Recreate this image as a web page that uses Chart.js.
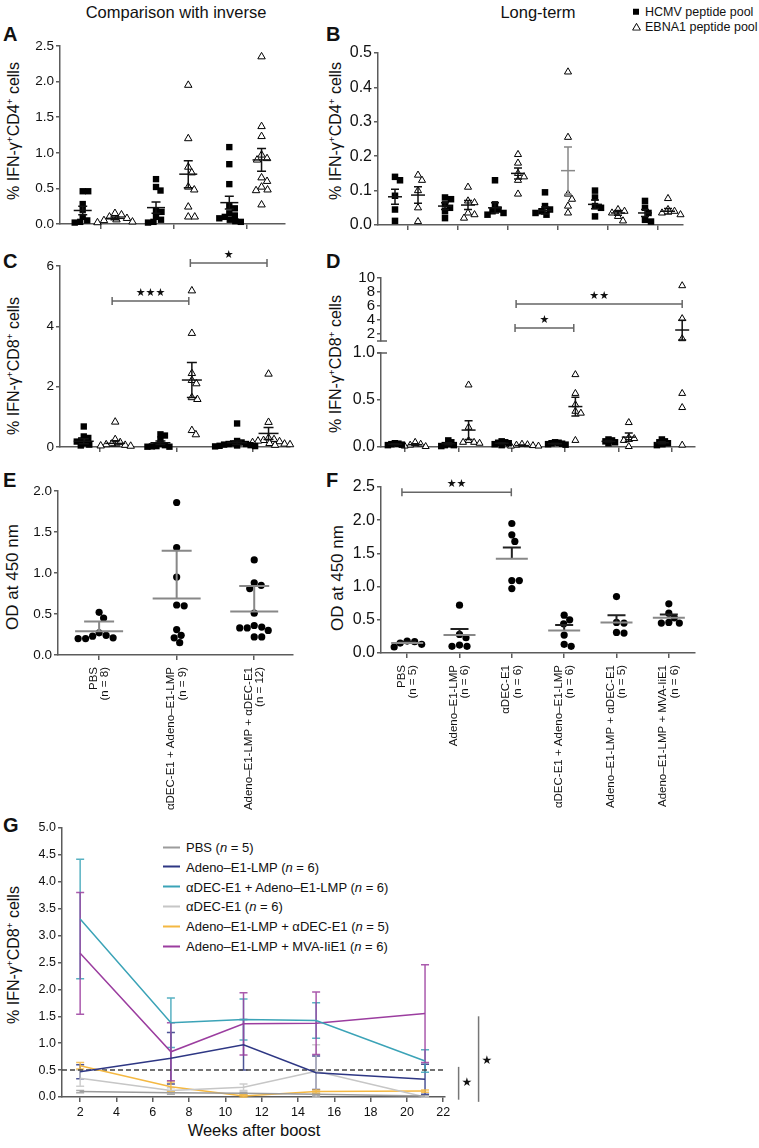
<!DOCTYPE html>
<html><head><meta charset="utf-8">
<script src="https://cdn.jsdelivr.net/npm/chart.js@4.4.0/dist/chart.umd.min.js"></script>
<style>
html,body{margin:0;padding:0;background:#fff}
body{width:759px;height:1148px;position:relative;overflow:hidden;font-family:"Liberation Sans",Arial,Helvetica,sans-serif;color:#111}
canvas{position:absolute}
.c{position:absolute;white-space:nowrap;transform:translate(-50%,-50%);line-height:1}
.r{position:absolute;white-space:nowrap;transform:translate(-50%,-50%) rotate(-90deg);line-height:1}
.L{position:absolute;font-weight:bold;font-size:20px;line-height:1;transform:translateY(-50%)}
sup{font-size:62%;vertical-align:0;position:relative;top:-0.6em;line-height:0}
.lg{position:absolute;white-space:nowrap;transform:translateY(-50%);display:flex;align-items:center;line-height:1}
.lg i.s{display:inline-block;width:17px;height:2px;margin-right:6px}
</style></head><body>

<div class="c" style="left:176px;top:12px;font-size:16.5px">Comparison with inverse</div>
<div class="c" style="left:538px;top:12px;font-size:16.5px">Long-term</div>
<div class="lg" style="left:632px;top:12px;font-size:12.5px"><svg width="8" height="8"><rect x="1" y="1" width="6" height="6" fill="#000"/></svg><span style="margin-left:5px">HCMV peptide pool</span></div>
<div class="lg" style="left:632px;top:27px;font-size:12.5px"><svg width="9" height="8"><polygon points="4.5,0.6 8.4,7.4 0.6,7.4" fill="#fff" stroke="#000" stroke-width="1"/></svg><span style="margin-left:4px">EBNA1 peptide pool</span></div>

<div class="L" style="left:3px;top:34px">A</div>
<div class="L" style="left:326px;top:34px">B</div>
<div class="L" style="left:3px;top:261px">C</div>
<div class="L" style="left:326px;top:261px">D</div>
<div class="L" style="left:3px;top:480px">E</div>
<div class="L" style="left:326px;top:480px">F</div>
<div class="L" style="left:3px;top:825px">G</div>

<div class="r" style="left:14px;top:131px;font-size:16px">% IFN-γ<sup>+</sup>CD4<sup>+</sup> cells</div>
<div class="r" style="left:336px;top:131px;font-size:16px">% IFN-γ<sup>+</sup>CD4<sup>+</sup> cells</div>
<div class="r" style="left:14px;top:366px;font-size:16px">% IFN-γ<sup>+</sup>CD8<sup>+</sup> cells</div>
<div class="r" style="left:336px;top:364px;font-size:16px">% IFN-γ<sup>+</sup>CD8<sup>+</sup> cells</div>
<div class="r" style="left:12px;top:577px;font-size:17px">OD at 450 nm</div>
<div class="r" style="left:337px;top:578px;font-size:17px">OD at 450 nm</div>
<div class="r" style="left:14px;top:955px;font-size:16px">% IFN-γ<sup>+</sup>CD8<sup>+</sup> cells</div>
<div class="c" style="left:254px;top:1130px;font-size:16.5px">Weeks after boost</div>
<div id="glegend"></div>

<script>
// ---------------- DATA ----------------
// Panel A: comparison with inverse, CD4 (3 groups)
const A_hcmv = [
  [0.46, 0.46, 0.28, 0.2, 0.1, 0.05, 0.03, 0.02],
  [0.63, 0.52, 0.47, 0.18, 0.17, 0.1, 0.06, 0.03, 0.02],
  [1.08, 0.84, 0.56, 0.25, 0.22, 0.15, 0.12, 0.1, 0.08, 0.06, 0.04, 0.03]
];
const A_ebna = [
  [0.15, 0.13, 0.1, 0.08, 0.06, 0.05, 0.03, 0.02],
  [1.95, 1.2, 0.8, 0.72, 0.52, 0.48, 0.24, 0.1, 0.1],
  [2.35, 1.37, 1.23, 0.97, 0.92, 0.9, 0.65, 0.6, 0.52, 0.48, 0.47, 0.27]
];
const A_hcmvMean = [0.19, 0.23, 0.3], A_hcmvSem = [0.06, 0.08, 0.09];
const A_ebnaMean = [0.08, 0.7, 0.9], A_ebnaSem = [0.02, 0.19, 0.16];
const A_yTicks = [0, 0.5, 1.0, 1.5, 2.0, 2.5];

// Panel B: long-term, CD4 (6 groups)
const B_hcmv = [
  [0.14, 0.13, 0.085, 0.045, 0.012],
  [0.08, 0.075, 0.06, 0.05, 0.04, 0.02],
  [0.13, 0.06, 0.045, 0.04, 0.035, 0.03],
  [0.095, 0.055, 0.045, 0.04, 0.035, 0.03],
  [0.1, 0.08, 0.055, 0.05, 0.025],
  [0.07, 0.05, 0.035, 0.015, 0.01]
];
const B_ebna = [
  [0.145, 0.13, 0.1, 0.05, 0.01],
  [0.11, 0.07, 0.065, 0.035, 0.03, 0.02],
  [0.205, 0.18, 0.15, 0.14, 0.13, 0.09],
  [0.445, 0.255, 0.09, 0.075, 0.055, 0.035],
  [0.045, 0.04, 0.035, 0.025, 0.012],
  [0.077, 0.045, 0.04, 0.035, 0.03]
];
const B_hcmvMean = [0.082, 0.055, 0.05, 0.042, 0.06, 0.035], B_hcmvSem = [0.022, 0.01, 0.015, 0.01, 0.013, 0.01];
const B_ebnaMean = [0.087, 0.058, 0.15, 0.158, 0.035, 0.04], B_ebnaSem = [0.024, 0.013, 0.016, 0.069, 0.007, 0.008];
const B_yTicks = [0, 0.1, 0.2, 0.3, 0.4, 0.5];

// Panel C: comparison with inverse, CD8
const C_hcmv = [
  [0.68, 0.35, 0.3, 0.22, 0.18, 0.12, 0.08, 0.05],
  [0.42, 0.38, 0.25, 0.1, 0.06, 0.03, 0.02, 0.01, 0.01],
  [0.78, 0.2, 0.15, 0.12, 0.1, 0.1, 0.08, 0.06, 0.05, 0.04, 0.03, 0.02]
];
const C_ebna = [
  [0.83, 0.25, 0.15, 0.1, 0.08, 0.06, 0.04, 0.03],
  [5.18, 3.77, 2.44, 2.21, 2.1, 1.64, 1.58, 0.55, 0.41],
  [2.42, 0.82, 0.3, 0.25, 0.22, 0.2, 0.18, 0.15, 0.12, 0.1, 0.08, 0.06]
];
const C_hcmvMean = [0.19, 0.14, 0.14], C_hcmvSem = [0.08, 0.06, 0.06];
const C_ebnaMean = [0.12, 2.22, 0.45], C_ebnaSem = [0.09, 0.58, 0.2];
const C_yTicks = [0, 2, 4, 6];
const C_sig = [{x1: 0.16, x2: 1.16, y: 4.84, t: '★★★'}, {x1: 1.18, x2: 2.18, y: 6.1, t: '★'}];

// Panel D: long-term, CD8 (broken axis)
const D_hcmv = [
  [0.04, 0.035, 0.03, 0.025, 0.02],
  [0.07, 0.05, 0.03, 0.02, 0.02, 0.01],
  [0.06, 0.05, 0.045, 0.04, 0.03, 0.02],
  [0.05, 0.045, 0.04, 0.035, 0.03, 0.025],
  [0.08, 0.07, 0.06, 0.05, 0.04],
  [0.08, 0.06, 0.05, 0.04, 0.03, 0.02]
];
const D_ebna = [
  [0.05, 0.03, 0.02, 0.01, 0.005],
  [0.66, 0.21, 0.07, 0.05, 0.05, 0.04],
  [0.03, 0.025, 0.02, 0.015, 0.01, 0.01],
  [0.77, 0.57, 0.45, 0.38, 0.36, 0.07],
  [0.26, 0.1, 0.09, 0.07, 0.005],
  [8.9, 4.2, 1.33, 0.57, 0.42, 0.02]
];
const D_hcmvMean = [0.03, 0.035, 0.04, 0.035, 0.06, 0.045], D_hcmvSem = [0.005, 0.01, 0.006, 0.004, 0.008, 0.01];
const D_ebnaMean = [0.025, 0.18, 0.015, 0.43, 0.105, 2.57], D_ebnaSem = [0.01, 0.1, 0.005, 0.1, 0.045, 1.41];
const D_yTicksUpper = [2, 4, 6, 8, 10];
const D_yTicksLower = [0, 0.5, 1.0];
const D_sig = [{x1: 2.06, x2: 3.16, y: 2.86, t: '★'}, {x1: 2.08, x2: 5.19, y: 6.29, t: '★★'}];

// Panel E: OD at 450 nm, comparison with inverse
const E_cats = ['PBS', 'αDEC-E1 + Adeno–E1-LMP', 'Adeno–E1-LMP + αDEC-E1'];
const E_n = [8, 9, 12];
const E_od = [
  [0.52, 0.45, 0.27, 0.24, 0.23, 0.21, 0.2, 0.2],
  [1.86, 1.31, 0.95, 0.61, 0.6, 0.31, 0.24, 0.21, 0.15],
  [1.16, 0.88, 0.85, 0.81, 0.51, 0.36, 0.34, 0.33, 0.33, 0.3, 0.22, 0.22]
];
const E_mean = [0.29, 0.69, 0.53], E_sem = [0.12, 0.58, 0.31];
const E_yTicks = [0, 0.5, 1.0, 1.5, 2.0];

// Panel F: OD at 450 nm, long-term
const F_cats = ['PBS', 'Adeno–E1-LMP', 'αDEC-E1', 'αDEC-E1 + Adeno–E1-LMP', 'Adeno–E1-LMP + αDEC-E1', 'Adeno–E1-LMP + MVA-IiE1'];
const F_n = [5, 6, 6, 6, 5, 6];
const F_od = [
  [0.18, 0.17, 0.15, 0.13, 0.09],
  [0.72, 0.28, 0.23, 0.12, 0.1, 0.1],
  [1.95, 1.78, 1.68, 1.09, 1.09, 0.97],
  [0.57, 0.5, 0.44, 0.27, 0.13, 0.1],
  [0.85, 0.46, 0.45, 0.31, 0.3],
  [0.74, 0.6, 0.53, 0.46, 0.45, 0.45]
];
const F_mean = [0.15, 0.27, 1.42, 0.34, 0.46, 0.53], F_sem = [0.02, 0.09, 0.17, 0.08, 0.11, 0.05];
const F_yTicks = [0, 0.5, 1.0, 1.5, 2.0, 2.5];
const F_sig = [{x1: -0.1, x2: 1.99, y: 2.42, t: '★★'}];

// Panel G: time course
const G_weeks = [2, 7, 11, 15, 21];
const G_names = ['PBS', 'Adeno–E1-LMP', 'αDEC-E1 + Adeno–E1-LMP', 'αDEC-E1', 'Adeno–E1-LMP + αDEC-E1', 'Adeno–E1-LMP + MVA-IiE1'];
const G_n = [5, 6, 6, 6, 5, 6];
const G_colors = ['#9c9c9c', '#2e3784', '#3ba3b7', '#c6c6c6', '#f4b842', '#9b3d9f'];
const G_pbs    = [0.1, 0.08, 0.07, 0.05, 0.02];
const G_adeno  = [0.47, 0.72, 0.97, 0.45, 0.33];
const G_decAd  = [3.31, 1.38, 1.44, 1.42, 0.67];
const G_dec    = [0.35, 0.12, 0.18, 0.48, 0.0];
const G_adDec  = [0.58, 0.19, 0.02, 0.1, 0.11];
const G_adMva  = [2.67, 0.84, 1.36, 1.37, 1.55];
const G_pbsErr   = [0.02, 0.03, 0.02, 0.02, 0.01];
const G_adenoErr = [0.13, 0.48, 0.47, 0.31, 0.28];
const G_decAdErr = [1.11, 0.46, 0.38, 0.33, 0.21];
const G_decErr   = [0.15, 0.05, 0.06, 0.49, 0.01];
const G_adDecErr = [0.06, 0.09, 0.02, 0.03, 0.02];
const G_adMvaErr = [1.13, 0.54, 0.58, 0.58, 0.91];
const G_threshold = 0.5;
const G_xTicks = [2, 4, 6, 8, 10, 12, 14, 16, 18, 20, 22];
const G_yTicks = [0, 0.5, 1.0, 1.5, 2.0, 2.5, 3.0, 3.5, 4.0, 4.5, 5.0];
const G_sig = [{x: 22.85, y1: 0.56, y2: -0.05, ty: 0.26}, {x: 23.95, y1: 1.5, y2: -0.09, ty: 0.67}];

// ---------------- DRAWING ----------------
Chart.defaults.font.family = '"Liberation Sans", Arial, sans-serif';
Chart.defaults.color = '#111';
const AX = '#5c5c5c';
const STAR_FONT = '11px "DejaVu Sans"';

function mk(box) {
  const c = document.createElement('canvas');
  c.width = box[2]; c.height = box[3];
  c.style.left = box[0] + 'px'; c.style.top = box[1] + 'px';
  document.body.appendChild(c);
  return c;
}
const range = n => Array.from({length: n}, (_, i) => i);

function drawBrackets(ctx, xs, ys, list) {
  (list || []).forEach(b => {
    const x1 = xs.getPixelForValue(b.x1), x2 = xs.getPixelForValue(b.x2), y = ys.getPixelForValue(b.y);
    ctx.save();
    ctx.strokeStyle = '#666'; ctx.lineWidth = 1.5;
    ctx.beginPath();
    ctx.moveTo(x1, y); ctx.lineTo(x2, y);
    ctx.moveTo(x1, y - 4); ctx.lineTo(x1, y + 4);
    ctx.moveTo(x2, y - 4); ctx.lineTo(x2, y + 4);
    ctx.stroke();
    ctx.fillStyle = '#111'; ctx.font = STAR_FONT; ctx.textAlign = 'center'; ctx.textBaseline = 'middle';
    ctx.fillText(b.t, (x1 + x2) / 2, y - 8);
    ctx.restore();
  });
}

const summPlugin = {
  id: 'summ',
  afterDatasetsDraw(chart) {
    const o = chart.options.plugins.summ; if (!o) return;
    const ctx = chart.ctx, xs = chart.scales.x, ys = chart.scales.y;
    const yMin = ys.min, yMax = ys.max;
    (o.items || []).forEach(it => {
      if (it.m < yMin || it.m > yMax) return;
      const cx = xs.getPixelForValue(it.x), my = ys.getPixelForValue(it.m);
      const hiV = it.m + it.s, loV = it.up ? it.m : it.m - it.s;
      const hy = ys.getPixelForValue(Math.min(hiV, yMax)), ly = ys.getPixelForValue(Math.max(loV, yMin));
      ctx.save();
      ctx.lineWidth = it.lw;
      ctx.strokeStyle = it.ec;
      ctx.beginPath();
      ctx.moveTo(cx, hy); ctx.lineTo(cx, ly);
      if (hiV <= yMax) { ctx.moveTo(cx - it.cw, hy); ctx.lineTo(cx + it.cw, hy); }
      if (!it.up && loV >= yMin) { ctx.moveTo(cx - it.cw, ly); ctx.lineTo(cx + it.cw, ly); }
      ctx.stroke();
      ctx.strokeStyle = it.mc;
      ctx.beginPath(); ctx.moveTo(cx - it.hw, my); ctx.lineTo(cx + it.hw, my); ctx.stroke();
      ctx.restore();
    });
    const ca = chart.chartArea;
    ctx.save(); ctx.strokeStyle = AX; ctx.lineWidth = 1.5; ctx.beginPath();
    if (o.breakBottom) { ctx.moveTo(ca.left - 4, ca.bottom); ctx.lineTo(ca.left + 6, ca.bottom); }
    if (o.breakTop) { ctx.moveTo(ca.left - 4, ca.top); ctx.lineTo(ca.left + 6, ca.top); }
    ctx.stroke(); ctx.restore();
    drawBrackets(ctx, xs, ys, o.brackets);
  }
};

function swarm(chart) {
  const xs = chart.scales.x, ys = chart.scales.y;
  chart.data.datasets.forEach(ds => {
    const d = ds.swarm; if (!d) return;
    const byBase = new Map();
    ds.data.forEach(p => { if (!byBase.has(p.b)) byBase.set(p.b, []); byBase.get(p.b).push(p); });
    byBase.forEach(arr => {
      const placed = [];
      arr.slice().sort((a, b) => b.y - a.y).forEach(p => {
        const bx = xs.getPixelForValue(p.b), py = ys.getPixelForValue(p.y);
        let best = 0;
        for (let k = 0; k < 400; k++) {
          const cands = k === 0 ? [0] : [k * 0.5, -k * 0.5];
          let ok = null;
          for (const c of cands) {
            if (placed.every(q => { const dx = bx + c - q[0], dy = py - q[1]; return dx * dx + dy * dy >= d * d; })) { ok = c; break; }
          }
          if (ok !== null) { best = ok; break; }
        }
        placed.push([bx + best, py]);
        p.x = xs.getValueForPixel(bx + best);
      });
    });
  });
  chart.update('none');
}

function dotPanel(o) {
  const datasets = [], items = [];
  o.series.forEach(s => {
    const pts = [];
    s.vals.forEach((arr, g) => arr.forEach(v => { if (!o.keep || o.keep(v)) pts.push({x: g + s.off, y: v, b: g + s.off}); }));
    datasets.push({data: pts, pointStyle: s.style, pointRadius: s.r, pointHoverRadius: s.r,
      pointBackgroundColor: s.fill, pointBorderColor: s.stroke, pointBorderWidth: s.bw,
      showLine: false, clip: false, swarm: s.d});
    if (s.mean) s.mean.forEach((m, g) => items.push({x: g + s.off, m, s: s.sem[g],
      hw: o.st.hw, cw: o.st.cw, lw: o.st.lw,
      mc: (s.mc && s.mc[g]) || o.st.mc, ec: (s.ec && s.ec[g]) || o.st.ec, up: o.st.up}));
  });
  const hasLabels = !!o.labels;
  const chart = new Chart(mk(o.box), {
    type: 'scatter',
    data: {datasets},
    options: {
      responsive: false, animation: false, events: [],
      layout: {padding: {top: o.pad[0], right: o.pad[1], bottom: o.pad[2] || 0, left: 0}},
      plugins: {legend: {display: false}, tooltip: {enabled: false},
        summ: {items, brackets: o.brackets, breakBottom: o.breakBottom, breakTop: o.breakTop}},
      scales: {
        x: {type: 'linear', display: o.showX !== false, min: o.xMin, max: o.xMax,
          afterBuildTicks: s => { s.ticks = range(o.n).map(v => ({value: v})); },
          ticks: {display: hasLabels, autoSkip: false, minRotation: 90, maxRotation: 90,
            labelOffset: -5.75, padding: 7, color: '#111', font: {size: 11.5, lineHeight: 1.0},
            callback: v => hasLabels ? o.labels[Math.round(v)] : ''},
          grid: {display: true, drawOnChartArea: false, drawTicks: true, tickLength: 5, color: AX, lineWidth: 1.5},
          border: {display: true, color: AX, width: 1.5},
          afterFit: s => { s.height = o.xH || 0; }},
        y: {type: 'linear', min: o.yMin, max: o.yMax,
          afterBuildTicks: s => { s.ticks = o.yTicks.map(v => ({value: v})); },
          ticks: {callback: o.yFmt, color: '#111', font: {size: o.yFont}, padding: 2, autoSkip: false},
          grid: {display: true, drawOnChartArea: false, drawTicks: true, tickLength: 4, color: AX, lineWidth: 1.5},
          border: {display: true, color: AX, width: 1.5},
          afterFit: s => { s.width = o.yW; }}
      }
    },
    plugins: [summPlugin]
  });
  swarm(chart);
  return chart;
}

const f1 = v => Number(v).toFixed(1);
const f0 = v => String(v);
const SQ = (vals, off, mean, sem, r, d, extra) => Object.assign({vals, off, mean, sem, style: 'rect', r, fill: '#000', stroke: '#000', bw: 0, d}, extra || {});
const TR = (vals, off, mean, sem, r, d, extra) => Object.assign({vals, off, mean, sem, style: 'triangle', r, fill: '#fff', stroke: '#000', bw: 1, d}, extra || {});
const CI = (vals, mean, sem, r, d) => ({vals, off: 0, mean, sem, style: 'circle', r, fill: '#000', stroke: '#000', bw: 0, d});

// A
dotPanel({box: [0, 30, 300, 210], pad: [16, 15], yW: 60, xH: 16, n: 3, xMin: -0.55, xMax: 2.52,
  yMin: 0, yMax: 2.5, yTicks: A_yTicks, yFmt: f1, yFont: 13.5,
  st: {hw: 9, cw: 4.5, lw: 1.5, mc: '#111', ec: '#111'},
  series: [SQ(A_hcmv, -0.24, A_hcmvMean, A_hcmvSem, 4.5, 5.5), TR(A_ebna, 0.2, A_ebnaMean, A_ebnaSem, 4.3, 6.5)]});
// B
dotPanel({box: [320, 30, 380, 210], pad: [23, 17], yW: 58, xH: 15, n: 6, xMin: -0.6, xMax: 5.5,
  yMin: 0, yMax: 0.5, yTicks: B_yTicks, yFmt: f1, yFont: 16,
  st: {hw: 7, cw: 4, lw: 1.5, mc: '#111', ec: '#111'},
  series: [SQ(B_hcmv, -0.26, B_hcmvMean, B_hcmvSem, 4.6, 6),
           TR(B_ebna, 0.2, B_ebnaMean, B_ebnaSem, 4.1, 6.5, {mc: [0, 0, 0, '#888'], ec: [0, 0, 0, '#888']})]});
// C
dotPanel({box: [0, 250, 300, 210], pad: [16, 10], yW: 60, xH: 13, n: 3, xMin: -0.52, xMax: 2.48,
  yMin: 0, yMax: 6, yTicks: C_yTicks, yFmt: f0, yFont: 13.5,
  st: {hw: 10, cw: 5, lw: 1.5, mc: '#111', ec: '#111'}, brackets: C_sig,
  series: [SQ(C_hcmv, -0.21, C_hcmvMean, C_hcmvSem, 4.5, 4.5), TR(C_ebna, 0.2, C_ebnaMean, C_ebnaSem, 4.3, 5.5)]});
// D upper segment
dotPanel({box: [320, 262, 380, 91], pad: [16, 5, 12], yW: 61, showX: false, n: 6, xMin: -0.45, xMax: 5.43,
  yMin: 1, yMax: 10, yTicks: D_yTicksUpper, yFmt: f0, yFont: 15, keep: v => v > 1, breakBottom: true,
  st: {hw: 7, cw: 4, lw: 1.5, mc: '#111', ec: '#111'}, brackets: D_sig,
  series: [SQ(D_hcmv, -0.19, D_hcmvMean, D_hcmvSem, 4.6, 3.5), TR(D_ebna, 0.19, D_ebnaMean, D_ebnaSem, 4, 5.5)]});
// D lower segment
dotPanel({box: [320, 340, 380, 120], pad: [13, 5], yW: 61, xH: 13, n: 6, xMin: -0.45, xMax: 5.43,
  yMin: 0, yMax: 1, yTicks: D_yTicksLower, yFmt: f1, yFont: 16, keep: v => v <= 1, breakTop: true,
  st: {hw: 7, cw: 4, lw: 1.5, mc: '#111', ec: '#111'},
  series: [SQ(D_hcmv, -0.19, D_hcmvMean, D_hcmvSem, 4.6, 3.5), TR(D_ebna, 0.19, D_ebnaMean, D_ebnaSem, 4, 5.5)]});
// E
dotPanel({box: [0, 478, 305, 345], pad: [13, 12], yW: 58, xH: 168, n: 3, xMin: -0.53, xMax: 2.5,
  yMin: 0, yMax: 2, yTicks: E_yTicks, yFmt: f1, yFont: 13.5,
  labels: E_cats.map((c, i) => [c, '(n = ' + E_n[i] + ')']),
  st: {hw: 24, cw: 15, lw: 2, mc: '#888', ec: '#888', up: true},
  series: [CI(E_od, E_mean, E_sem, 3.6, 7.2)]});
// F
dotPanel({box: [320, 474, 380, 349], pad: [13, 5], yW: 61, xH: 170, n: 6, xMin: -0.5, xMax: 5.5,
  yMin: 0, yMax: 2.5, yTicks: F_yTicks, yFmt: f1, yFont: 16,
  labels: F_cats.map((c, i) => [c, '(n = ' + F_n[i] + ')']), brackets: F_sig,
  st: {hw: 16, cw: 9, lw: 2, mc: '#888', ec: '#222', up: true},
  series: [CI(F_od, F_mean, F_sem, 3.6, 7.2)]});

// G
const G_means = [G_pbs, G_adeno, G_decAd, G_dec, G_adDec, G_adMva];
const G_errs = [G_pbsErr, G_adenoErr, G_decAdErr, G_decErr, G_adDecErr, G_adMvaErr];
const gPlugin = {
  id: 'gerr',
  beforeDatasetsDraw(chart) {
    const ctx = chart.ctx, x = chart.scales.x, y = chart.scales.y;
    G_means.forEach((ser, i) => {
      ctx.save(); ctx.strokeStyle = G_colors[i]; ctx.globalAlpha = 0.85; ctx.lineWidth = 1.5;
      G_weeks.forEach((w, j) => {
        const px = x.getPixelForValue(w), m = ser[j], e = G_errs[i][j];
        const hy = y.getPixelForValue(m + e), ly = y.getPixelForValue(Math.max(m - e, 0));
        ctx.beginPath();
        ctx.moveTo(px, hy); ctx.lineTo(px, ly);
        ctx.moveTo(px - 4, hy); ctx.lineTo(px + 4, hy);
        ctx.moveTo(px - 4, ly); ctx.lineTo(px + 4, ly);
        ctx.stroke();
      });
      ctx.restore();
    });
  },
  afterDraw(chart) {
    const ctx = chart.ctx, x = chart.scales.x, y = chart.scales.y;
    G_sig.forEach(s => {
      const px = x.getPixelForValue(s.x);
      ctx.save(); ctx.strokeStyle = '#777'; ctx.lineWidth = 1.5;
      ctx.beginPath(); ctx.moveTo(px, y.getPixelForValue(s.y1)); ctx.lineTo(px, y.getPixelForValue(s.y2)); ctx.stroke();
      ctx.fillStyle = '#111'; ctx.font = '12px "DejaVu Sans"'; ctx.textAlign = 'left'; ctx.textBaseline = 'middle';
      ctx.fillText('★', px + 3, y.getPixelForValue(s.ty));
      ctx.restore();
    });
  }
};
const gDatasets = G_means.map((ser, i) => ({
  data: G_weeks.map((w, j) => ({x: w, y: ser[j]})),
  borderColor: G_colors[i], borderWidth: 1.5, pointRadius: 0, tension: 0, fill: false, clip: false
}));
gDatasets.push({data: [{x: 1, y: G_threshold}, {x: 22, y: G_threshold}], borderColor: '#444', borderWidth: 1.5,
  borderDash: [5, 3], pointRadius: 0, fill: false});
new Chart(mk([0, 815, 500, 333]), {
  type: 'line',
  data: {datasets: gDatasets},
  options: {
    responsive: false, animation: false, events: [],
    layout: {padding: {top: 13, right: 55, left: 0, bottom: 0}},
    plugins: {legend: {display: false}, tooltip: {enabled: false}},
    scales: {
      x: {type: 'linear', min: 1, max: 22.1,
        afterBuildTicks: s => { s.ticks = G_xTicks.map(v => ({value: v})); },
        ticks: {color: '#111', font: {size: 12.5}, padding: 3, maxRotation: 0, autoSkip: false, callback: v => String(v)},
        grid: {display: true, drawOnChartArea: false, drawTicks: true, tickLength: 5, color: AX, lineWidth: 1.5},
        border: {display: true, color: AX, width: 1.5},
        afterFit: s => { s.height = 51; }},
      y: {type: 'linear', min: 0, max: 5,
        afterBuildTicks: s => { s.ticks = G_yTicks.map(v => ({value: v})); },
        ticks: {color: '#111', font: {size: 12.5}, padding: 2, autoSkip: false, callback: v => Number(v).toFixed(1)},
        grid: {display: true, drawOnChartArea: false, drawTicks: true, tickLength: 4, color: AX, lineWidth: 1.5},
        border: {display: true, color: AX, width: 1.5},
        afterFit: s => { s.width = 62; }}
    }
  },
  plugins: [gPlugin]
});

// G legend (HTML text)
const lg = document.getElementById('glegend');
G_names.forEach((nm, i) => {
  const d = document.createElement('div');
  d.className = 'lg';
  d.style.left = '163px'; d.style.top = (847 + i * 19.8) + 'px'; d.style.fontSize = '13px';
  d.innerHTML = '<i class="s" style="background:' + G_colors[i] + '"></i><span>' + nm + ' (<i>n</i> = ' + G_n[i] + ')</span>';
  lg.appendChild(d);
});
</script>
</body></html>
